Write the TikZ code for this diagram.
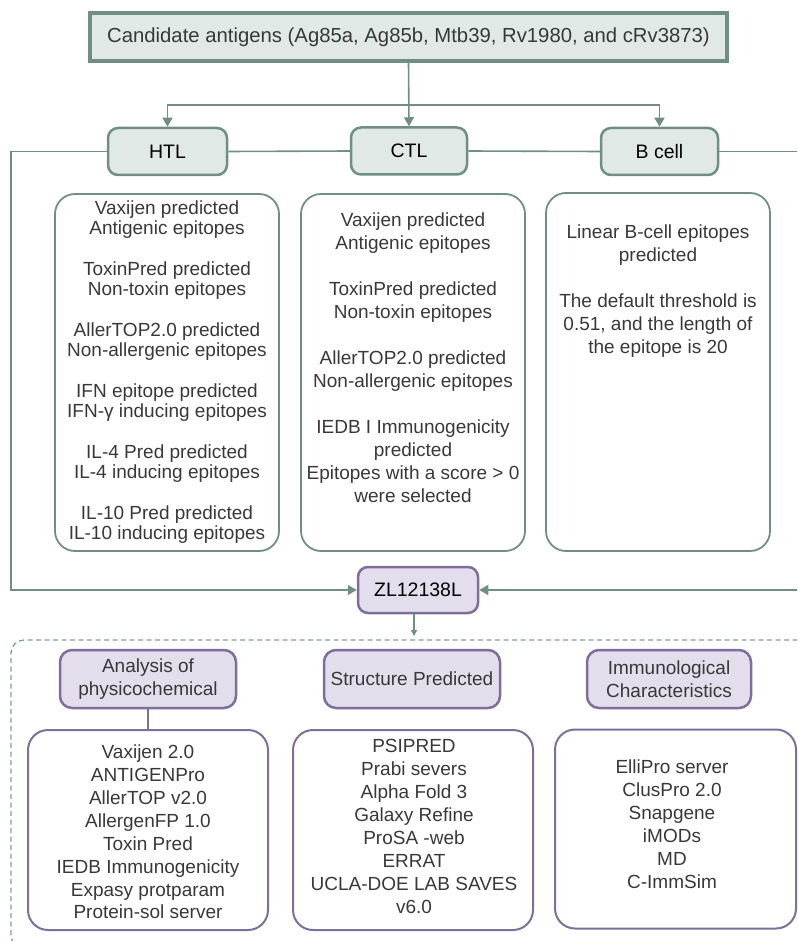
\documentclass[tikz,border=0pt]{standalone}
\usepackage{fontspec}
\setmainfont{Liberation Sans}
\usetikzlibrary{arrows.meta}
\definecolor{gline}{HTML}{6F8F86}
\definecolor{gfill}{HTML}{E1E9E7}
\definecolor{gdash}{HTML}{7FA096}
\definecolor{pline}{HTML}{7E6E9B}
\definecolor{pfill}{HTML}{E3DDEC}
\definecolor{txt}{HTML}{383838}
\begin{document}
\begin{tikzpicture}[x=1pt,y=-1pt,
  titlebox/.style={draw=gline, fill=gfill, line width=3.5pt, inner sep=0pt, minimum width=637pt, minimum height=48pt, text=txt, font=\fontsize{20.3}{24}\selectfont},
  hdr/.style={draw=gline, fill=gfill, line width=2.5pt, rounded corners=10pt, inner sep=0pt, minimum height=47pt, text=black, font=\fontsize{19.5}{23}\selectfont},
  gbox/.style={draw=gline, line width=1.8pt, rounded corners=20pt, inner sep=0pt, minimum width=224pt, minimum height=357pt},
  dtext/.style={align=center, inner sep=0pt, text=txt},
  phdr/.style={draw=pline, fill=pfill, line width=2.5pt, rounded corners=12pt, inner sep=0pt, minimum height=58pt, align=center, text=txt, font=\fontsize{19}{23}\selectfont},
  pbox/.style={draw=pline, line width=2pt, rounded corners=20pt, inner sep=0pt, minimum width=240pt, minimum height=200pt},
  conn/.style={draw=gline, line width=1.6pt},
  tip/.style={-{Triangle[length=9pt,width=10pt]}},
  smalltip/.style={-{Triangle[length=6pt,width=6pt]}},
  dashbox/.style={draw=gdash, line width=1.3pt, dash pattern=on 5pt off 3.5pt, rounded corners=13pt}
]
\path[use as bounding box] (0,0) rectangle (797,941);
\clip (0,0) rectangle (797,941);

% top
\node[titlebox] (top) at (408.5,37) {Candidate antigens (Ag85a, Ag85b, Mtb39, Rv1980, and cRv3873)};

% level 1 headers
\node[hdr, minimum width=119pt] (htl) at (167.5,151.5) {HTL};
\node[hdr, minimum width=116pt] (ctl) at (409,151) {CTL};
\node[hdr, minimum width=117pt] (bcell) at (659.5,151.5) {B cell};

% connectors from top
\coordinate (split) at (409,105);
\draw[conn, tip] (top.south) -- (ctl.north);
\draw[conn, tip] (split) -| (htl.north);
\draw[conn, tip] (split) -| (bcell.north);

% detail boxes
\node[gbox] (htld) at (167,372.5) {};
\node[gbox] (ctld) at (413,372.5) {};
\node[gbox, minimum height=358pt] (bcelld) at (658,372) {};

\node[dtext, font=\fontsize{19}{20}\selectfont] (htlt) at (167,372) {Vaxijen predicted\\Antigenic epitopes\\[21pt]ToxinPred predicted\\Non-toxin epitopes\\[21pt]AllerTOP2.0 predicted\\Non-allergenic epitopes\\[21pt]IFN epitope predicted\\IFN-γ inducing epitopes\\[21pt]IL-4 Pred predicted\\IL-4 inducing epitopes\\[21pt]IL-10 Pred predicted\\IL-10 inducing epitopes};
\node[dtext, font=\fontsize{19}{23}\selectfont] (ctlt) at (413,358) {Vaxijen predicted\\Antigenic epitopes\\[23pt]ToxinPred predicted\\Non-toxin epitopes\\[23pt]AllerTOP2.0 predicted\\Non-allergenic epitopes\\[23pt]IEDB I Immunogenicity\\predicted\\Epitopes with a score > 0\\were selected};
\node[dtext, font=\fontsize{19}{23}\selectfont] (bcellt) at (658,291) {Linear B-cell epitopes\\predicted\\[23pt]The default threshold is\\0.51, and the length of\\the epitope is 20};

% ZL12138L
\node[hdr, draw=pline, fill=pfill, minimum width=120pt, minimum height=46pt] (zl) at (418,590) {ZL12138L};

% side connectors
\draw[conn] (htl.east) -- (ctl.west);
\draw[conn] (ctl.east) -- (bcell.west);
\coordinate (lc) at (11,151.5);
\coordinate (rc) at (806,151.5);
\draw[conn, tip] (htl.west) -- (lc) |- (zl.west);
\draw[conn, tip] (bcell.east) -- (rc) |- (zl.east);

% dashed region
\draw[dashbox] (806,640) -- (11,640) -- (11,948) -- (806,948);
\coordinate (zlend) at (414,636);
\draw[conn, line width=1.3pt, smalltip] (zl.south -| zlend) -- (zlend);

% purple headers
\node[phdr, minimum width=176pt] (anal) at (148,679) {Analysis of\\physicochemical};
\node[phdr, minimum width=176pt] (struct) at (412,679) {Structure Predicted};
\node[phdr, minimum width=164pt] (immu) at (669,679) {Immunological\\Characteristics};

% bottom boxes
\node[pbox] (b1) at (148,830) {};
\node[pbox] (b2) at (413,830) {};
\node[pbox, minimum width=241pt, minimum height=199pt] (b3) at (675.5,829) {};
\draw[draw=pline, line width=2pt] (anal.south) -- (b1.north);

\node[dtext, font=\fontsize{19}{22.9}\selectfont] (b1t) at (148,832) {Vaxijen 2.0\\ANTIGENPro\\AllerTOP v2.0\\AllergenFP 1.0\\Toxin Pred\\IEDB Immunogenicity\\Expasy protparam\\Protein-sol server};
\node[dtext, font=\fontsize{19}{23}\selectfont] (b2t) at (414,826.5) {PSIPRED\\Prabi severs\\Alpha Fold 3\\Galaxy Refine\\ProSA -web\\ERRAT\\UCLA-DOE LAB SAVES\\v6.0};
\node[dtext, font=\fontsize{19}{23}\selectfont] (b3t) at (672,824.5) {ElliPro server\\ClusPro 2.0\\Snapgene\\iMODs\\MD\\C-ImmSim};
\end{tikzpicture}
\end{document}
